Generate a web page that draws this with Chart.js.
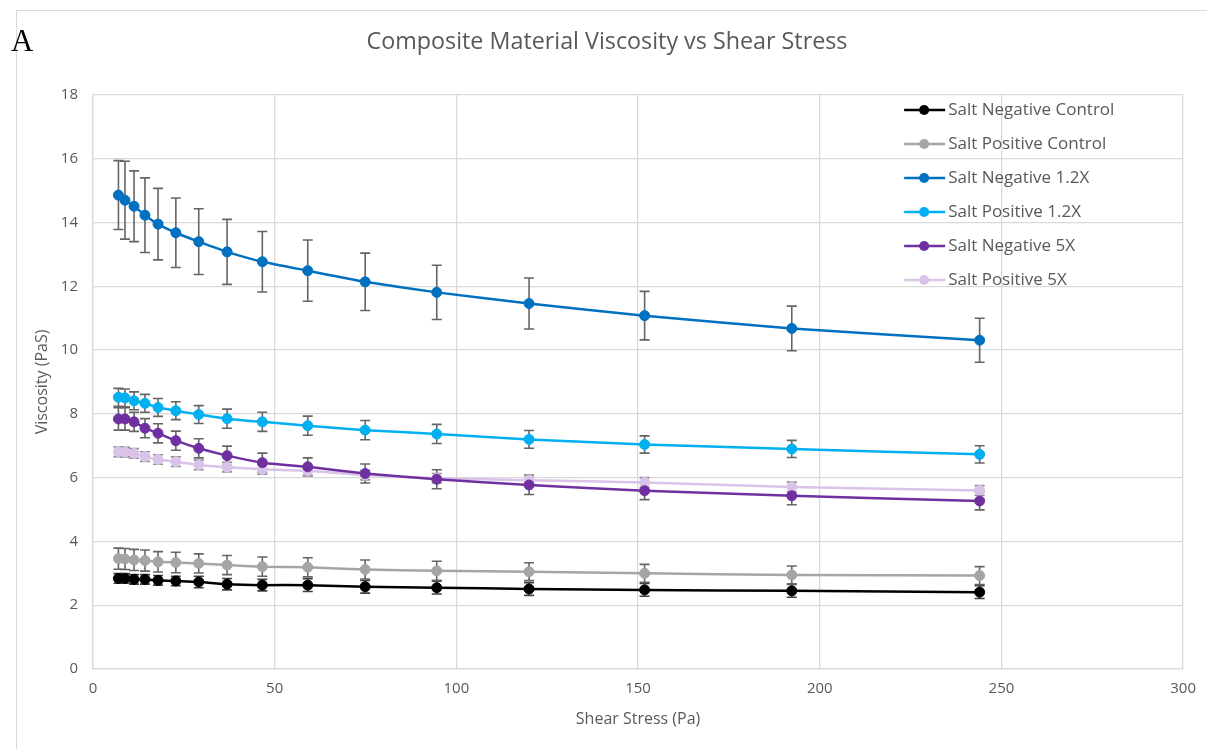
<!DOCTYPE html>
<html>
<head>
<meta charset="utf-8">
<script src="https://cdn.jsdelivr.net/npm/chart.js@4.4.1/dist/chart.umd.min.js"></script>
<style>
    html, body { margin: 0; padding: 0; background: #fff; }
    #wrap { position: relative; width: 1207px; height: 749px; overflow: hidden; }
    #frame { position: absolute; left: 16px; top: 10px; width: 1200px; height: 760px; border: 1px solid #d9d9d9; box-sizing: border-box; }
    #panel { position: absolute; left: 11px; top: 23px; font-family: "Liberation Serif", "DejaVu Serif", serif; font-size: 31px; color: #000; }
    #chartBox { position: absolute; left: 0; top: 0; width: 1207px; height: 749px; }
</style>
</head>
<body>
<div id="wrap">
    <div id="frame"></div>
    <div id="chartBox"><canvas id="chartCanvas" width="1207" height="749"></canvas></div>
    <div id="panel">A</div>
</div>
<script>
// === Data ===
const shearStress = [7, 8.8, 11.3, 14.3, 17.9, 22.8, 29.1, 36.9, 46.6, 59.1, 74.9, 94.6, 120, 151.8, 192.3, 244];

const saltNegControl = [2.84, 2.84, 2.81, 2.81, 2.78, 2.76, 2.73, 2.66, 2.63, 2.63, 2.58, 2.55, 2.51, 2.48, 2.45, 2.41];
const saltNegControlErr = [0.15, 0.15, 0.15, 0.15, 0.15, 0.15, 0.18, 0.18, 0.18, 0.2, 0.2, 0.2, 0.2, 0.2, 0.2, 0.2];

const saltPosControl = [3.46, 3.45, 3.42, 3.4, 3.36, 3.34, 3.31, 3.26, 3.21, 3.19, 3.12, 3.08, 3.05, 3.0, 2.95, 2.93];
const saltPosControlErr = [0.33, 0.33, 0.33, 0.33, 0.32, 0.32, 0.3, 0.3, 0.3, 0.3, 0.3, 0.3, 0.28, 0.28, 0.28, 0.28];

const saltNeg12 = [14.86, 14.7, 14.51, 14.23, 13.95, 13.68, 13.4, 13.08, 12.77, 12.49, 12.14, 11.81, 11.46, 11.08, 10.68, 10.31];
const saltNeg12Err = [1.08, 1.22, 1.11, 1.17, 1.12, 1.09, 1.03, 1.02, 0.95, 0.96, 0.9, 0.85, 0.8, 0.76, 0.7, 0.69];

const saltPos12 = [8.52, 8.5, 8.41, 8.33, 8.2, 8.1, 7.98, 7.85, 7.75, 7.63, 7.49, 7.37, 7.2, 7.04, 6.9, 6.73];
const saltPos12Err = [0.28, 0.28, 0.28, 0.28, 0.28, 0.28, 0.28, 0.3, 0.3, 0.3, 0.3, 0.3, 0.28, 0.27, 0.27, 0.27];

const saltNeg5 = [7.84, 7.84, 7.75, 7.55, 7.39, 7.16, 6.92, 6.69, 6.47, 6.34, 6.13, 5.95, 5.77, 5.59, 5.43, 5.27];
const saltNeg5Err = [0.35, 0.35, 0.3, 0.3, 0.3, 0.3, 0.3, 0.3, 0.3, 0.28, 0.3, 0.3, 0.3, 0.28, 0.28, 0.28];

const saltPos5 = [6.81, 6.8, 6.76, 6.66, 6.57, 6.5, 6.4, 6.33, 6.26, 6.22, 6.08, 5.98, 5.92, 5.85, 5.71, 5.6];
const saltPos5Err = [0.15, 0.15, 0.15, 0.15, 0.15, 0.15, 0.15, 0.15, 0.15, 0.15, 0.15, 0.15, 0.15, 0.15, 0.15, 0.15];

const xTicks = [0, 50, 100, 150, 200, 250, 300];
const yTicks = [0, 2, 4, 6, 8, 10, 12, 14, 16, 18];

const TEXT = "#595959";
const GRID = "#d9d9d9";
const FONT = "'Open Sans', 'Liberation Sans', sans-serif";

function series(label, values, errors, color, barColor) {
    return {
        label,
        data: shearStress.map((x, i) => ({ x, y: values[i] })),
        errors,
        barColor,
        borderColor: color,
        backgroundColor: color,
        pointBackgroundColor: color,
        pointBorderColor: color,
        pointRadius: 5,
        pointBorderWidth: 1,
        pointHoverRadius: 5,
        borderWidth: 2.5,
        tension: 0.15,
        fill: false
    };
}

const datasets = [
    series("Salt Negative Control", saltNegControl, saltNegControlErr, "#000000", "#404040"),
    series("Salt Positive Control", saltPosControl, saltPosControlErr, "#a5a5a5", "#656565"),
    series("Salt Negative 1.2X", saltNeg12, saltNeg12Err, "#0070c0", "#656565"),
    series("Salt Positive 1.2X", saltPos12, saltPos12Err, "#00b0f0", "#656565"),
    series("Salt Negative 5X", saltNeg5, saltNeg5Err, "#7030a0", "#656565"),
    series("Salt Positive 5X", saltPos5, saltPos5Err, "#d9c3e9", "#8c8c8c")
];

// === Error bars (drawn through the scales) ===
const errorBars = {
    id: "errorBars",
    beforeDatasetsDraw(chart) {
        const { ctx, scales: { x, y } } = chart;
        ctx.save();
        chart.data.datasets.forEach(ds => {
            ctx.strokeStyle = ds.barColor;
            ctx.lineWidth = 1.6;
            ds.data.forEach((p, i) => {
                const px = x.getPixelForValue(p.x);
                const top = y.getPixelForValue(p.y + ds.errors[i]);
                const bot = y.getPixelForValue(p.y - ds.errors[i]);
                ctx.beginPath();
                ctx.moveTo(px, top); ctx.lineTo(px, bot);
                ctx.moveTo(px - 5, top); ctx.lineTo(px + 5, top);
                ctx.moveTo(px - 5, bot); ctx.lineTo(px + 5, bot);
                ctx.stroke();
            });
        });
        ctx.restore();
    }
};

// === Legend inside plot, top right ===
const innerLegend = {
    id: "innerLegend",
    afterDraw(chart) {
        const { ctx, chartArea } = chart;
        const left = chartArea.right - 279;
        ctx.save();
        ctx.font = "17px " + FONT;
        ctx.textBaseline = "middle";
        chart.data.datasets.forEach((ds, i) => {
            const cy = chartArea.top + 15 + i * 34;
            ctx.strokeStyle = ds.borderColor;
            ctx.lineWidth = 2.5;
            ctx.beginPath();
            ctx.moveTo(left, cy); ctx.lineTo(left + 41, cy);
            ctx.stroke();
            ctx.fillStyle = ds.borderColor;
            ctx.beginPath();
            ctx.arc(left + 20, cy, 5, 0, Math.PI * 2);
            ctx.fill();
            ctx.fillStyle = TEXT;
            ctx.fillText(ds.label, left + 44, cy);
        });
        ctx.restore();
    }
};

const ctx = document.getElementById("chartCanvas").getContext("2d");
new Chart(ctx, {
    type: "line",
    data: { datasets },
    plugins: [errorBars, innerLegend],
    options: {
        responsive: false,
        animation: false,
        layout: { padding: { left: 30, right: 23, top: 11, bottom: 20 } },
        plugins: {
            legend: { display: false },
            tooltip: { enabled: false },
            title: {
                display: true,
                text: "Composite Material Viscosity vs Shear Stress",
                color: TEXT,
                font: { family: FONT, size: 23.3, weight: "normal" },
                padding: { top: 17, bottom: 39 }
            }
        },
        scales: {
            x: {
                type: "linear",
                min: 0,
                max: 300,
                afterBuildTicks: s => { s.ticks = xTicks.map(v => ({ value: v })); },
                afterFit: s => { s.height = 749 - 669 - 20; },
                grid: { color: GRID, lineWidth: 1.3, drawTicks: false },
                border: { color: GRID, width: 1.3 },
                ticks: { color: TEXT, font: { family: FONT, size: 15 }, padding: 11 },
                title: {
                    display: true,
                    text: "Shear Stress (Pa)",
                    color: TEXT,
                    font: { family: FONT, size: 16 },
                    padding: { top: 8, bottom: 0 }
                }
            },
            y: {
                min: 0,
                max: 18,
                afterBuildTicks: s => { s.ticks = yTicks.map(v => ({ value: v })); },
                afterFit: s => { s.width = 93 - 30; },
                grid: { color: GRID, lineWidth: 1.3, drawTicks: false },
                border: { color: GRID, width: 1.3 },
                ticks: { color: TEXT, font: { family: FONT, size: 15 }, padding: 15 },
                title: {
                    display: true,
                    text: "Viscosity (PaS)",
                    color: TEXT,
                    font: { family: FONT, size: 16 },
                    padding: { top: 3, bottom: 0 }
                }
            }
        }
    }
});
</script>
</body>
</html>
